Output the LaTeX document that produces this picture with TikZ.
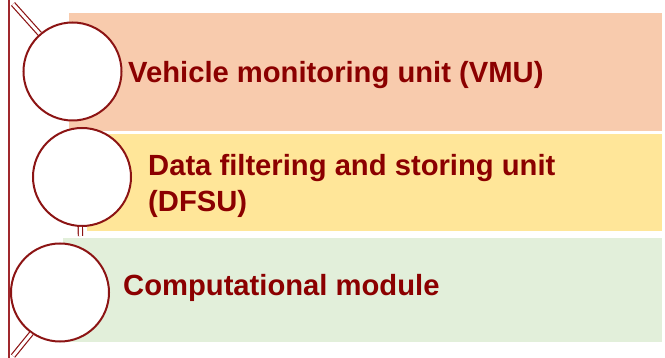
\documentclass[tikz,border=0pt]{standalone}
\usepackage{fontspec}
\setmainfont{Liberation Sans}
\definecolor{txtred}{RGB}{139,0,0}
\definecolor{ringred}{RGB}{140,20,20}
\definecolor{linered}{RGB}{160,40,45}
\definecolor{boxsalmon}{RGB}{248,203,173}
\definecolor{boxyellow}{RGB}{255,230,153}
\definecolor{boxgreen}{RGB}{226,239,218}
\begin{document}
\begin{tikzpicture}[x=1pt,y=-1pt,
  ring/.style={circle,draw=ringred,line width=2pt,fill=white,minimum size=98pt,inner sep=0pt},
  handle/.style={draw=ringred,double=white,line width=1.2pt,double distance=3pt},
  label/.style={inner sep=0pt,text=txtred,font=\fontsize{29.2}{36}\selectfont\bfseries,align=left}]
\useasboundingbox (0,0) rectangle (665,358);
% vertical line
\coordinate (vtop) at (9,0);
\coordinate (vbot) at (9,358);
\draw[linered,line width=1.2pt] (vtop) -- (vbot);
% boxes
\fill[boxsalmon] (69,13) rectangle (662,131);
\fill[boxyellow] (87,134) rectangle (662,231);
\fill[boxgreen] (63,238) rectangle (662,342);
% circles
\node[ring] (c1) at (72.5,71.5) {};
\node[ring] (c2) at (82,177) {};
\node[ring] (c3) at (60,292.5) {};
% handles
\coordinate (h1) at (13,4);
\coordinate (h2) at (80.5,236);
\coordinate (h3) at (13,356);
\draw[handle] (c1.131) -- (h1);
\draw[handle] (c2.268) -- (h2);
\draw[handle] (c3.235) -- (h3);
% texts
\node[label,anchor=base west] (t1) at (128,83) {Vehicle monitoring unit (VMU)};
\node[label,anchor=north west] (t2) at (148,154) {Data filtering and storing unit\\(DFSU)};
\node[label,anchor=base west] (t3) at (123,296) {Computational module};
\end{tikzpicture}
\end{document}
